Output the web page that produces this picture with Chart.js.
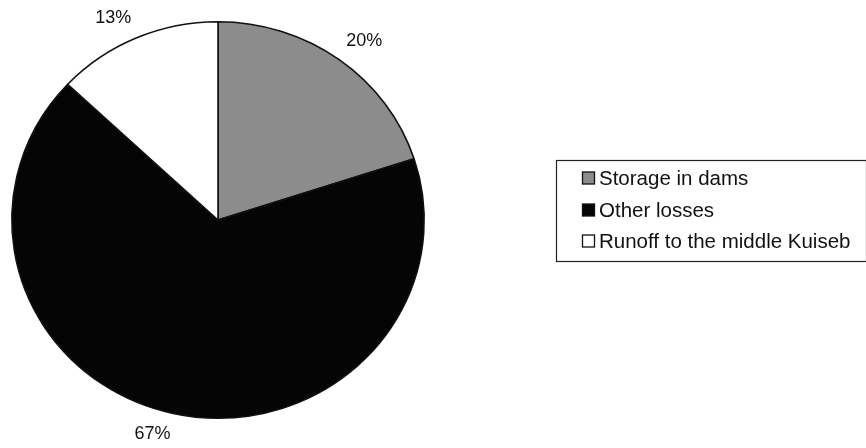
<!DOCTYPE html>
<html>
<head>
<meta charset="utf-8">
<script src="https://cdn.jsdelivr.net/npm/chart.js@4.4.1/dist/chart.umd.min.js"></script>
<style>
  html, body { margin: 0; padding: 0; background: #ffffff; }
  #wrap { width: 866px; height: 448px; position: relative; }
</style>
</head>
<body>
<div id="wrap"><canvas id="c" width="866" height="448"></canvas></div>
<script>
// Water balance shares
const categories = ['Storage in dams', 'Other losses', 'Runoff to the middle Kuiseb'];
const shares = [20, 67, 13];
const sliceColors = ['#8c8c8c', '#050505', '#ffffff'];

const FONT = '"Liberation Sans", Arial, sans-serif';
const X_STRETCH = 1.04; // pie is drawn slightly wider than tall

// Widen the pie horizontally around its centre while the slices are drawn
const stretchPie = {
  id: 'stretchPie',
  beforeDatasetsDraw(chart) {
    const arc = chart.getDatasetMeta(0).data[0];
    const ctx = chart.ctx;
    ctx.save();
    ctx.translate(arc.x, 0);
    ctx.scale(X_STRETCH, 1);
    ctx.translate(-arc.x, 0);
  },
  afterDatasetsDraw(chart) {
    chart.ctx.restore();
  }
};

// Percentage labels placed just outside each slice, anchored by the corner nearest the centre
const outsideLabels = {
  id: 'outsideLabels',
  afterDatasetsDraw(chart) {
    const ctx = chart.ctx;
    const meta = chart.getDatasetMeta(0);
    const total = shares.reduce((a, b) => a + b, 0);
    ctx.save();
    ctx.font = '18px ' + FONT;
    ctx.fillStyle = '#111';
    meta.data.forEach((arc, i) => {
      const p = arc.getProps(['x', 'y', 'startAngle', 'endAngle', 'outerRadius'], true);
      const mid = (p.startAngle + p.endAngle) / 2;
      const gap = 12;
      const ax = p.x + Math.cos(mid) * (p.outerRadius * X_STRETCH + gap);
      const ay = p.y + Math.sin(mid) * (p.outerRadius + gap);
      ctx.textAlign = Math.cos(mid) >= 0 ? 'left' : 'right';
      ctx.textBaseline = Math.sin(mid) < 0 ? 'bottom' : 'top';
      const txt = Math.round(shares[i] / total * 100) + '%';
      ctx.fillText(txt, ax, ay);
    });
    ctx.restore();
  }
};

// Boxed legend to the right of the pie
const boxLegend = {
  id: 'boxLegend',
  afterDraw(chart) {
    const ctx = chart.ctx;
    const left = 556.5, top = 160.5, right = 866.5, bottom = 261.5;
    ctx.save();
    ctx.strokeStyle = '#222';
    ctx.lineWidth = 1.2;
    ctx.strokeRect(left, top, right - left, bottom - top);
    ctx.font = '20.5px ' + FONT;
    ctx.textBaseline = 'middle';
    ctx.textAlign = 'left';
    const rowY = [178, 210, 241];
    categories.forEach((name, i) => {
      const y = rowY[i];
      ctx.fillStyle = sliceColors[i];
      ctx.fillRect(582.5, y - 6, 12, 12);
      ctx.strokeStyle = '#111';
      ctx.lineWidth = 1.3;
      ctx.strokeRect(582.5, y - 6, 12, 12);
      ctx.fillStyle = '#111';
      ctx.fillText(name, 599, y + 1);
    });
    ctx.restore();
  }
};

new Chart(document.getElementById('c'), {
  type: 'pie',
  data: {
    labels: categories,
    datasets: [{
      data: shares,
      backgroundColor: sliceColors,
      borderColor: '#111111',
      borderWidth: 1.5,
      borderAlign: 'center'
    }]
  },
  options: {
    responsive: false,
    animation: false,
    rotation: 0,
    layout: { padding: { left: 19, right: 449, top: 21, bottom: 29 } },
    plugins: {
      legend: { display: false },
      tooltip: { enabled: false }
    }
  },
  plugins: [stretchPie, outsideLabels, boxLegend]
});
</script>
</body>
</html>
